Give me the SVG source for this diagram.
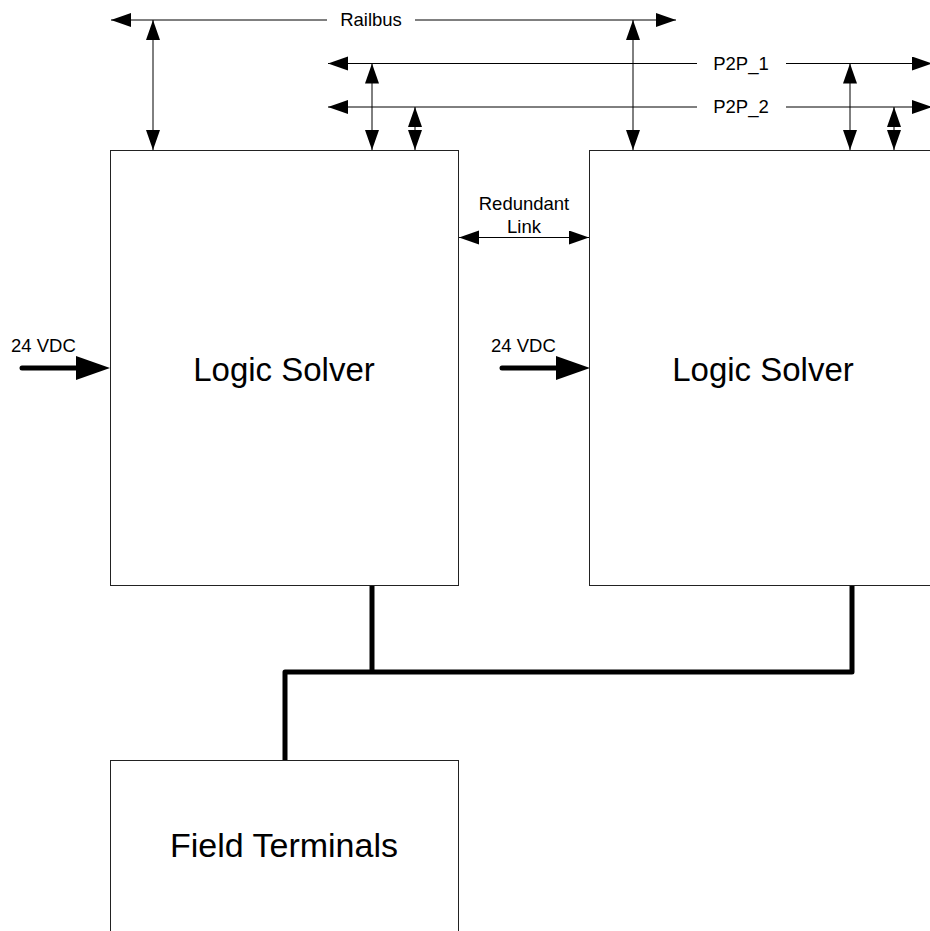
<svg xmlns="http://www.w3.org/2000/svg" width="930" height="931" viewBox="0 0 930 931">
<style>
  .box { fill: #ffffff; stroke: #222222; stroke-width: 1; }
  .big { font-family: "Liberation Sans", Arial, sans-serif; font-size: 33px; fill: #000; text-anchor: middle; }
  .lbl { font-family: "Liberation Sans", Arial, sans-serif; font-size: 18.5px; fill: #000; }
  .mid { text-anchor: middle; }
  .thin { stroke: #000; stroke-width: 1; fill: none; }
  .bus { stroke: #000; stroke-width: 5; fill: none; stroke-linejoin: round; stroke-linecap: butt; }
  .pwr { stroke: #000; stroke-width: 5; fill: none; stroke-linecap: round; }
</style>
<defs>
  <marker id="ah" markerUnits="userSpaceOnUse" markerWidth="21" markerHeight="15" refX="20" refY="7" orient="auto-start-reverse" viewBox="0 0 21 15">
    <path d="M0,0 L20,7 L0,14 Z" fill="#000"/>
  </marker>
  <marker id="bh" markerUnits="userSpaceOnUse" markerWidth="36" markerHeight="26" refX="34" refY="12" orient="auto" viewBox="0 0 36 26">
    <path d="M0,0 L34,12 L0,24 Z" fill="#000"/>
  </marker>
</defs>

<g id="connectors">
  <!-- Railbus -->
  <line class="thin" x1="327" y1="20" x2="111" y2="20" marker-end="url(#ah)"/>
  <line class="thin" x1="415" y1="20" x2="676" y2="20" marker-end="url(#ah)"/>
  <!-- P2P_1 -->
  <line class="thin" x1="697" y1="63.5" x2="328" y2="63.5" marker-end="url(#ah)"/>
  <line class="thin" x1="786" y1="63.5" x2="932" y2="63.5" marker-end="url(#ah)"/>
  <!-- P2P_2 -->
  <line class="thin" x1="697" y1="107" x2="328" y2="107" marker-end="url(#ah)"/>
  <line class="thin" x1="786" y1="107" x2="932" y2="107" marker-end="url(#ah)"/>
  <!-- vertical drops -->
  <line class="thin" x1="153" y1="20" x2="153" y2="150" marker-start="url(#ah)" marker-end="url(#ah)"/>
  <line class="thin" x1="372" y1="63.5" x2="372" y2="150" marker-start="url(#ah)" marker-end="url(#ah)"/>
  <line class="thin" x1="415" y1="107" x2="415" y2="150" marker-start="url(#ah)" marker-end="url(#ah)"/>
  <line class="thin" x1="633" y1="20" x2="633" y2="150" marker-start="url(#ah)" marker-end="url(#ah)"/>
  <line class="thin" x1="850" y1="63.5" x2="850" y2="150" marker-start="url(#ah)" marker-end="url(#ah)"/>
  <line class="thin" x1="894" y1="107" x2="894" y2="150" marker-start="url(#ah)" marker-end="url(#ah)"/>
  <!-- Redundant link -->
  <line class="thin" x1="459" y1="237.5" x2="589" y2="237.5" marker-start="url(#ah)" marker-end="url(#ah)"/>
  <!-- 24 VDC power arrows -->
  <line class="pwr" x1="22" y1="368" x2="80" y2="368"/>
  <path d="M76,356 L110,368 L76,380 Z" fill="#000"/>
  <line class="pwr" x1="502" y1="368" x2="560" y2="368"/>
  <path d="M556,356 L590,368 L556,380 Z" fill="#000"/>
  <!-- field bus -->
  <polyline class="bus" points="372,585 372,672"/>
  <polyline class="bus" points="852,585 852,672 285,672 285,760"/>
</g>

<g id="labels">
  <text class="lbl mid" x="371" y="26">Railbus</text>
  <text class="lbl mid" x="741" y="69.5">P2P_1</text>
  <text class="lbl mid" x="741" y="113">P2P_2</text>
  <text class="lbl mid" x="524" y="210">Redundant</text>
  <text class="lbl mid" x="524" y="233">Link</text>
  <text class="lbl" x="11" y="352">24 VDC</text>
  <text class="lbl" x="491" y="352">24 VDC</text>
</g>

<g id="logic-solver-1">
  <rect class="box" x="110.5" y="150.5" width="348" height="435"/>
  <text class="big" x="284" y="381">Logic Solver</text>
</g>
<g id="logic-solver-2">
  <rect class="box" x="589.5" y="150.5" width="348" height="435"/>
  <text class="big" x="763" y="381">Logic Solver</text>
</g>
<g id="field-terminals">
  <rect class="box" x="110.5" y="760.5" width="348" height="200"/>
  <text class="big" x="284" y="857" style="font-size:34px">Field Terminals</text>
</g>
</svg>
